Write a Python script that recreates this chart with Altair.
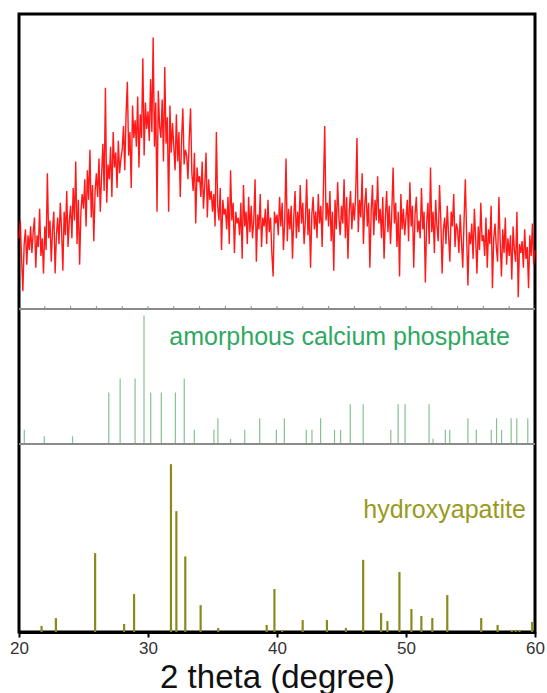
import altair as alt
import pandas as pd

# ---------------- data ----------------
# measured XRD pattern (top panel), 2theta grid 20.0 .. 60.0 step 0.1
two_theta = [round(20 + i * 0.1, 1) for i in range(401)]
measured = [
    24, 30, 17, 6, 22, 27, 15, 25, 20, 28,      # 20
    19, 26, 31, 14, 25, 21, 34, 18, 24, 12,     # 21
    28, 20, 46, 24, 30, 16, 27, 33, 12, 25,     # 22
    31, 22, 36, 27, 13, 33, 25, 40, 21, 30,     # 23
    35, 24, 41, 30, 50, 22, 37, 15, 33, 39,     # 24
    34, 44, 28, 47, 37, 54, 31, 42, 23, 40,     # 25
    46, 38, 51, 33, 45, 56, 40, 75, 36, 49,     # 26
    44, 55, 38, 60, 48, 53, 41, 57, 46, 51,     # 27
    54, 62, 47, 66, 77, 52, 60, 41, 69, 58,     # 28
    64, 55, 72, 48, 66, 58, 85, 52, 70, 61,     # 29
    67, 57, 78, 60, 92, 55, 70, 33, 74, 62,     # 30
    58, 71, 50, 82, 56, 65, 33, 69, 53, 63,     # 31
    55, 47, 66, 50, 60, 38, 57, 68, 49, 54,     # 32
    52, 44, 58, 68, 46, 40, 53, 29, 48, 43,     # 33
    45, 38, 50, 34, 42, 53, 31, 44, 37, 40,     # 34
    33, 39, 28, 60, 35, 30, 41, 20, 37, 32,     # 35
    34, 27, 38, 22, 47, 30, 36, 19, 33, 29,     # 36
    31, 25, 36, 17, 42, 28, 33, 22, 38, 26,     # 37
    35, 24, 30, 44, 16, 32, 27, 39, 21, 31,     # 38
    28, 34, 22, 37, 26, 31, 19, 11, 33, 29,     # 39
    32, 25, 38, 28, 36, 20, 30, 51, 23, 34,     # 40
    27, 35, 17, 31, 40, 24, 33, 26, 42, 29,     # 41
    36, 22, 30, 44, 25, 34, 14, 32, 38, 27,     # 42
    33, 24, 39, 29, 35, 21, 41, 62, 30, 36,     # 43
    28, 40, 23, 33, 13, 37, 27, 43, 31, 25,     # 44
    35, 29, 44, 24, 38, 17, 33, 40, 27, 36,     # 45
    30, 39, 58, 26, 37, 31, 46, 22, 35, 41,     # 46
    28, 36, 14, 33, 42, 25, 37, 30, 45, 29,     # 47
    34, 24, 38, 17, 31, 40, 26, 35, 22, 33,     # 48
    48, 29, 36, 21, 33, 11, 39, 27, 34, 25,     # 49
    31, 37, 23, 43, 28, 35, 14, 32, 38, 26,     # 50
    30, 24, 41, 27, 33, 9, 29, 36, 22, 48,      # 51
    26, 33, 19, 37, 28, 23, 42, 30, 12, 27,     # 52
    31, 22, 35, 25, 16, 33, 28, 39, 21, 29,     # 53
    27, 19, 32, 23, 14, 30, 44, 25, 8, 26,      # 54
    22, 29, 17, 34, 24, 12, 28, 20, 36, 23,     # 55
    25, 18, 31, 14, 27, 22, 35, 7, 24, 29,      # 56
    21, 16, 38, 23, 11, 27, 19, 31, 15, 24,     # 57
    18, 25, 10, 28, 20, 16, 33, 4, 22, 19,      # 58
    23, 14, 27, 17, 21, 7, 25, 18, 29, 15,      # 59
    20,                                         # 60
]

# amorphous calcium phosphate reference sticks (middle panel)
acp_pos = [20.41, 21.96, 24.15, 26.96, 27.84, 29.00, 29.69, 30.21, 31.03, 32.12,
           32.81, 33.59, 35.11, 35.42, 36.40, 37.50, 38.66, 39.95, 40.57, 42.27,
           42.71, 43.38, 44.46, 44.93, 45.68, 46.68, 48.82, 49.39, 49.93, 51.79,
           52.10, 53.05, 53.39, 54.80, 55.45, 56.61, 57.02, 57.41, 58.15, 58.59,
           59.44]
acp_int = [11, 6, 6, 40, 51, 51, 100, 40, 40, 40,
           51, 11, 11, 20, 4, 11, 20, 11, 20, 11,
           11, 20, 11, 11, 31, 31, 11, 31, 31, 31,
           4, 11, 11, 20, 11, 11, 20, 11, 20, 20,
           20]

# hydroxyapatite reference sticks (bottom panel)
hap_pos = [21.75, 22.86, 25.90, 28.15, 28.92, 31.78, 32.20, 32.89, 34.08, 35.44,
           39.20, 39.80, 40.40, 41.99, 43.87, 45.34, 46.68, 48.07, 48.56, 49.49,
           50.42, 51.19, 52.04, 53.20, 55.83, 57.10, 58.20, 58.50, 58.80, 59.78]
hap_int = [3.6, 8.3, 47, 4.8, 22.6, 100, 72, 45, 16, 2.4,
           4.2, 25.6, 1.2, 7.1, 7.1, 2.4, 43, 11.3, 6.5, 35.7,
           13.7, 9.5, 8.3, 22, 8.3, 4.2, 1.2, 1.2, 1.2, 6]

x_ticks = [20, 30, 40, 50, 60]
sep_ticks = [22, 24, 26, 28, 30, 32, 34, 36, 38, 40, 42, 44, 46, 48, 50, 52, 54, 56, 58]

# ---------------- layout ----------------
W, H = 516, 618
TOP_B = 295      # separator between top and middle panel (plot px)
MID_B = 430      # separator between middle and bottom panel

x_enc = alt.X(
    "x:Q",
    scale=alt.Scale(domain=[20, 60], nice=False, zero=False),
    axis=alt.Axis(values=x_ticks, title="2 theta (degree)", grid=False,
                  labelFlush=False, labelOverlap=False),
)

meas_df = pd.DataFrame({"x": two_theta, "y": measured})
acp_df = pd.DataFrame({"x": acp_pos, "y": acp_int})
hap_df = pd.DataFrame({"x": hap_pos, "y": hap_int})
tick_df = pd.DataFrame({"x": sep_ticks})

measured_line = alt.Chart(meas_df).mark_line(
    color="#ff0000", strokeWidth=1.4, opacity=0.9, interpolate="linear"
).encode(
    x=x_enc,
    y=alt.Y("y:Q", scale=alt.Scale(domain=[0, 100], range=[TOP_B, 0], nice=False), axis=None),
)

acp_sticks = alt.Chart(acp_df).mark_rule(color="#86c28e", strokeWidth=1.2).encode(
    x=x_enc,
    y=alt.Y("y:Q", scale=alt.Scale(domain=[0, 105], range=[MID_B, TOP_B], nice=False), axis=None),
    y2=alt.datum(0),
)

hap_sticks = alt.Chart(hap_df).mark_rule(color="#8a8a1c", strokeWidth=2.2).encode(
    x=x_enc,
    y=alt.Y("y:Q", scale=alt.Scale(domain=[0, 112], range=[H, MID_B], nice=False), axis=None),
    y2=alt.datum(0),
)

sep1 = alt.Chart(tick_df).mark_rule(color="#8a8a8a", strokeWidth=1).encode(
    x=alt.value(0), x2=alt.value(W), y=alt.value(TOP_B)
)
sep2 = alt.Chart(tick_df).mark_rule(color="#8a8a8a", strokeWidth=1).encode(
    x=alt.value(0), x2=alt.value(W), y=alt.value(MID_B)
)
sep_tick_marks = alt.Chart(tick_df).mark_rule(color="#8a8a8a", strokeWidth=1).encode(
    x=x_enc, y=alt.value(TOP_B - 3), y2=alt.value(TOP_B)
)

acp_label = alt.Chart(pd.DataFrame({"t": ["amorphous calcium phosphate"]})).mark_text(
    align="right", baseline="alphabetic", font="Liberation Sans", fontSize=25,
    color="#2fa862"
).encode(x=alt.datum(58.05), y=alt.value(331), text="t:N")

hap_label = alt.Chart(pd.DataFrame({"t": ["hydroxyapatite"]})).mark_text(
    align="right", baseline="alphabetic", font="Liberation Sans", fontSize=25,
    color="#9a9a22"
).encode(x=alt.datum(59.29), y=alt.value(504), text="t:N")

chart = alt.layer(
    measured_line, acp_sticks, hap_sticks, sep1, sep2, sep_tick_marks, acp_label, hap_label
).resolve_scale(y="independent").properties(
    width=W, height=H,
    autosize=alt.AutoSizeParams(type="none"),
    padding={"left": 19, "top": 14, "right": 12, "bottom": 61},
    background="white",
).configure_view(
    stroke="black", strokeWidth=3
).configure_axis(
    labelFont="Liberation Sans", labelFontSize=17, labelColor="#333333",
    labelPadding=3, tickSize=5, tickWidth=2, tickColor="black",
    domainColor="black", domainWidth=3,
    titleFont="Liberation Sans", titleFontSize=33, titleFontWeight="normal",
    titleColor="#111111", titleBaseline="alphabetic", titleY=55,
)

chart.save("out.html", embed_options={"renderer": "svg", "actions": False})
